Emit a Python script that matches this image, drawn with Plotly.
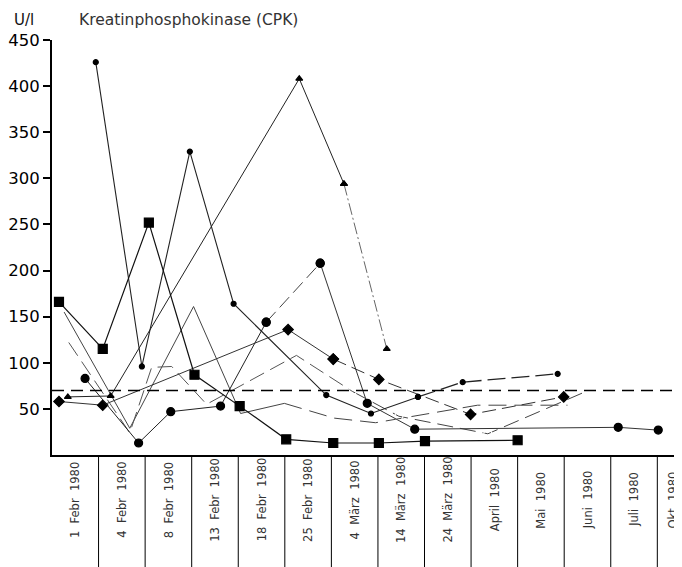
import plotly.graph_objects as go

# category labels (one cell per date, cell i spans [i, i+1])
categories = ["1  Febr  1980", "4  Febr  1980", "8  Febr  1980", "13  Febr  1980",
              "18  Febr  1980", "25  Febr  1980", "4  März  1980", "14  März  1980",
              "24  März  1980", "April  1980", "Mai  1980", "Juni  1980",
              "Juli  1980", "Okt  1980"]
y_ticks = [50, 100, 150, 200, 250, 300, 350, 400, 450]
ref_level = 70

# series (x in category units, y in U/l)
sq_x = [0.15, 1.09, 2.08, 3.06, 4.03, 5.03, 6.04, 7.02, 8.01, 10.0]
sq_y = [166, 115, 252, 87, 53, 17, 13, 13, 15, 16]

dot_x = [0.94, 1.93, 2.96, 3.90, 5.89, 6.85, 7.86, 8.82, 10.86]
dot_y = [426, 96, 329, 164, 65, 45, 63, 79, 88]

circ_x = [0.71, 1.86, 2.55, 3.62, 4.60, 5.76, 6.77, 7.79, 12.16, 13.02]
circ_y = [83, 13, 47, 53, 144, 208, 56, 28, 30, 27]

dia_x = [0.15, 1.09, 5.07, 6.04, 7.02, 8.99, 10.99]
dia_y = [58, 54, 136, 104, 82, 44, 63]

tri_x = [0.34, 1.26, 5.31, 6.27, 7.19]
tri_y = [63, 64, 408, 294, 115]

open_x = [0.36, 1.67, 2.14, 2.57, 3.32, 5.25, 6.45, 7.45, 9.36, 11.52]
open_y = [122, 24, 95, 96, 55, 108, 69, 42, 23, 70]

plain_x = [0.26, 1.67, 3.04, 4.05, 4.99, 6.06, 6.95, 9.14, 11.07]
plain_y = [155, 29, 161, 45, 56, 40, 35, 54, 54]

fig = go.Figure()

def add(x, y, symbol=None, size=0, dash="solid", color="#222", width=1.1, mode="lines+markers", mcolor="black"):
    fig.add_trace(go.Scatter(
        x=x, y=y, mode=mode,
        line=dict(color=color, width=width, dash=dash),
        marker=dict(symbol=symbol or "circle", size=size, color=mcolor,
                    line=dict(color="black", width=1.2)),
        showlegend=False, hoverinfo="skip", cliponaxis=False))

# plain (unmarked) series
add(plain_x[:5], plain_y[:5], mode="lines", color="#444", width=1.0)
add(plain_x[4:], plain_y[4:], mode="lines", color="#444", width=1.0, dash="18px,8px")
# open circle series
add(open_x[:7], open_y[:7], mode="lines", color="#555", width=1.0, dash="16px,7px")
add(open_x[6:], open_y[6:], "circle-open", 8, dash="16px,7px", color="#444", width=1.0, mcolor="white")
# triangles
add(tri_x[:4], tri_y[:4], "triangle-up", 6, color="#222", width=1.0)
add(tri_x[3:], tri_y[3:], "triangle-up", 6, dash="12px,3px,2px,3px", color="#666", width=1.0)
# diamonds
add(dia_x[:4], dia_y[:4], "diamond", 8, color="#333", width=1.0)
add(dia_x[3:], dia_y[3:], "diamond", 8, dash="14px,6px", color="#333", width=1.0)
# small dots
add(dot_x[:7], dot_y[:7], "circle", 5, color="#222", width=1.1)
add(dot_x[6:], dot_y[6:], "circle", 5, dash="18px,6px", color="#222", width=1.3)
# large circles
add(circ_x[:5], circ_y[:5], "circle", 8, color="#222", width=1.0)
add(circ_x[4:6], circ_y[4:6], "circle", 8, dash="14px,6px", color="#444", width=1.0)
add(circ_x[5:], circ_y[5:], "circle", 8, color="#333", width=1.0)
# squares
add(sq_x, sq_y, "square", 9, color="#111", width=1.2)

# reference level
fig.add_shape(type="line", xref="paper", yref="y", x0=0, x1=1, y0=ref_level, y1=ref_level,
              line=dict(color="black", width=1.6, dash="12px,7px"))

# cell separators below the axis
for i in range(1, len(categories)):
    fig.add_shape(type="line", xref="x", yref="paper", x0=i, x1=i, y0=0, y1=-0.28,
                  line=dict(color="black", width=1))

for i, lab in enumerate(categories):
    xc = i + 0.5 if i < len(categories) - 1 else 13.33
    fig.add_annotation(x=xc, y=-0.108, xref="x", yref="paper", text=lab,
                       textangle=-90, showarrow=False, xanchor="center", yanchor="middle",
                       font=dict(family="DejaVu Sans", size=11.5, color="#333"))

fig.add_annotation(x=-0.063, y=1.074, xref="paper", yref="paper", text="U/l", showarrow=False,
                   xanchor="left", yanchor="top",
                   font=dict(family="DejaVu Sans", size=15, color="#111"))
fig.add_annotation(x=0.040, y=1.074, xref="paper", yref="paper", text="Kreatinphosphokinase (CPK)",
                   showarrow=False, xanchor="left", yanchor="top",
                   font=dict(family="DejaVu Sans", size=15.5, color="#333"))

fig.update_layout(
    width=674, height=559,
    margin=dict(l=42, r=0, t=32, b=112),
    plot_bgcolor="white", paper_bgcolor="white",
    xaxis=dict(range=[0, 13.53], showgrid=False, zeroline=False, showticklabels=False,
               ticks="", showline=True, linecolor="black", linewidth=1.5, fixedrange=True),
    yaxis=dict(range=[0, 450], showgrid=False, zeroline=False, tickvals=y_ticks,
               ticks="outside", ticklen=7, tickwidth=2, tickcolor="black",
               showline=True, linecolor="black", linewidth=2,
               tickfont=dict(family="DejaVu Sans", size=16.5, color="black")),
)

fig.write_html("out.html")
